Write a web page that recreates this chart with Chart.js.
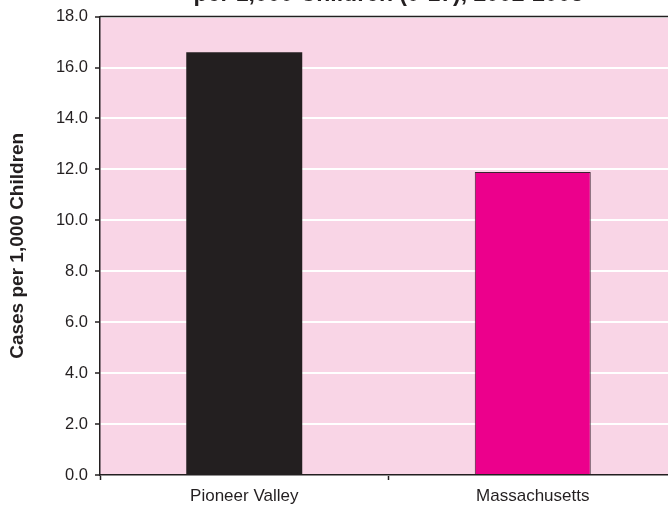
<!DOCTYPE html>
<html>
<head>
<meta charset="utf-8">
<script src="https://cdn.jsdelivr.net/npm/chart.js@4.4.0/dist/chart.umd.min.js"></script>
<style>
    html, body { margin: 0; padding: 0; background: #fff; overflow: hidden; }
    #wrap { position: relative; width: 668px; height: 506px; overflow: hidden; }
    #chartCases { position: absolute; left: 0; top: -20px; }
</style>
</head>
<body>
<div id="wrap">
    <canvas id="chartCases" width="680" height="535"></canvas>
</div>
<script>
// Casos por cada 1,000 niños
const regiones = ['Pioneer Valley', 'Massachusetts'];
const casos = [16.6, 11.9];
const coloresBarras = ['#231f20', '#ec008c'];
const bordesBarras = ['#231f20', '#3b2430'];
const anchoBordes = [0, 1];
const tituloGrafico = 'per 1,000 Children (0-17), 2002-2003';
const tituloEjeY = 'Cases per 1,000 Children';

const fuente = '"Liberation Sans", Arial, Helvetica, sans-serif';
const tinta = '#231f20';

// fondo rosa del area de datos y borde superior
const fondoArea = {
    id: 'fondoArea',
    beforeDraw: (chart) => {
        const { ctx, chartArea } = chart;
        ctx.save();
        ctx.fillStyle = '#f9d5e6';
        ctx.fillRect(chartArea.left, chartArea.top, chartArea.right - chartArea.left, chartArea.bottom - chartArea.top);
        ctx.restore();
    },
    afterDraw: (chart) => {
        const { ctx, chartArea } = chart;
        ctx.save();
        ctx.strokeStyle = tinta;
        ctx.lineWidth = 1.5;
        ctx.beginPath();
        ctx.moveTo(chartArea.left, chartArea.top);
        ctx.lineTo(chartArea.right, chartArea.top);
        ctx.stroke();
        ctx.restore();
    }
};

const ctx = document.getElementById('chartCases').getContext('2d');
const chart = new Chart(ctx, {
    type: 'bar',
    data: {
        labels: regiones,
        datasets: [{
            data: casos,
            backgroundColor: coloresBarras,
            borderColor: bordesBarras,
            borderWidth: anchoBordes,
            barPercentage: 0.402,
            categoryPercentage: 1
        }]
    },
    options: {
        responsive: false,
        animation: false,
        layout: { padding: { right: 3 } },
        plugins: {
            legend: { display: false },
            tooltip: { enabled: false },
            title: {
                display: true,
                text: tituloGrafico,
                fullSize: false,
                color: tinta,
                font: { family: fuente, size: 23, weight: 'bold' },
                padding: { top: 1, bottom: 8 }
            }
        },
        scales: {
            x: {
                afterFit: (scale) => { scale.height = 40; },
                grid: {
                    offset: true,
                    drawOnChartArea: false,
                    tickLength: 5,
                    tickColor: tinta,
                    tickWidth: 1.5
                },
                border: { color: tinta, width: 1.5 },
                ticks: {
                    color: tinta,
                    padding: 6,
                    font: { family: fuente, size: 17 }
                }
            },
            y: {
                min: 0,
                max: 18,
                afterFit: (scale) => { scale.width = 100; },
                grid: {
                    color: '#ffffff',
                    lineWidth: 2,
                    tickLength: 5,
                    tickColor: tinta,
                    tickWidth: 1.5
                },
                border: { color: tinta, width: 1.5 },
                ticks: {
                    stepSize: 2,
                    color: tinta,
                    padding: 7,
                    font: { family: fuente, size: 16.5 },
                    callback: (v) => v.toFixed(1)
                },
                title: {
                    display: true,
                    text: tituloEjeY,
                    color: tinta,
                    font: { family: fuente, size: 19, weight: 'bold' },
                    padding: { top: 6, bottom: 0 }
                }
            }
        }
    },
    plugins: [fondoArea]
});
</script>
</body>
</html>
